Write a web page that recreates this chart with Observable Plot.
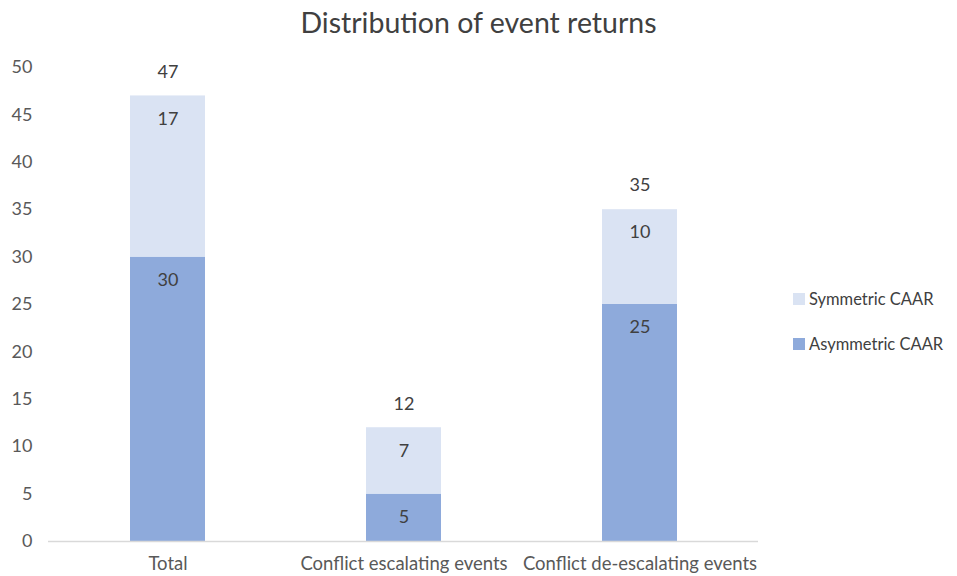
<!DOCTYPE html>
<html>
<head>
<meta charset="utf-8">
<script src="https://cdn.jsdelivr.net/npm/d3@7"></script>
<script src="https://cdn.jsdelivr.net/npm/@observablehq/plot@0.6"></script>
<style>
  body { margin: 0; background: #fff; font-family: Lato, "Open Sans", sans-serif; color: #595959; }
  #wrap { position: relative; width: 957px; height: 576px; overflow: hidden; }
  #title { position: absolute; left: 0; top: 5px; width: 957px; text-align: center; font-size: 28.5px; color: #404040; }
  #chart { position: absolute; left: 0; top: 50px; }
  #legend { position: absolute; left: 793px; top: 287px; font-size: 16.5px; color: #404040; }
  .item { display: flex; align-items: center; height: 24px; margin-bottom: 21px; }
  .sw { width: 12px; height: 12px; margin-right: 4px; }
</style>
</head>
<body>
<div id="wrap">
  <div id="title">Distribution of event returns</div>
  <div id="chart"></div>
  <div id="legend"></div>
</div>
<script>
// Event counts per group, split by CAAR type
const categories = ["Total", "Conflict escalating events", "Conflict de-escalating events"];
const asymmetric = [30, 5, 25];
const symmetric = [17, 7, 10];
const totals = [47, 12, 35];
const seriesNames = ["Symmetric CAAR", "Asymmetric CAAR"];
const yTicks = [0, 5, 10, 15, 20, 25, 30, 35, 40, 45, 50];

const colors = { "Asymmetric CAAR": "#8eaadb", "Symmetric CAAR": "#dae3f3" };

const rows = [];
categories.forEach((c, i) => {
  rows.push({ category: c, series: "Asymmetric CAAR", value: asymmetric[i] });
  rows.push({ category: c, series: "Symmetric CAAR", value: symmetric[i] });
});
const totalRows = categories.map((c, i) => ({ category: c, total: totals[i] }));

const stackOpts = { x: "category", y: "value", z: "series", order: ["Asymmetric CAAR", "Symmetric CAAR"] };

const chart = Plot.plot({
  width: 957,
  height: 526,
  marginLeft: 48,
  marginRight: 199,
  marginTop: 17,
  marginBottom: 35,
  style: { fontFamily: "Lato, 'Open Sans', sans-serif", fontSize: "18px", color: "#595959", background: "transparent" },
  x: { domain: categories, paddingInner: 0.683, paddingOuter: 0.3415, label: null, tickSize: 0, tickPadding: 15 },
  y: { domain: [0, 50], ticks: yTicks, label: null, tickSize: 0, tickPadding: 16 },
  color: { domain: Object.keys(colors), range: Object.values(colors) },
  marks: [
    Plot.barY(rows, Plot.stackY({ ...stackOpts, fill: "series" })),
    Plot.ruleY([0], { stroke: "#d9d9d9", strokeWidth: 1.5 }),
    // segment values sit just below the top of each segment
    Plot.text(rows, Plot.stackY2({ ...stackOpts, text: "value", dy: 23, fill: "#404040", fontSize: 18 })),
    // group totals above each bar
    Plot.text(totalRows, { x: "category", y: "total", text: "total", dy: -24, fill: "#404040", fontSize: 18 })
  ]
});
chart.querySelectorAll("[aria-label='x-axis tick label'] text").forEach(t => t.setAttribute("font-size", 18.5));
document.getElementById("chart").appendChild(chart);

const legend = document.getElementById("legend");
seriesNames.forEach(name => {
  const item = document.createElement("div");
  item.className = "item";
  const sw = document.createElement("div");
  sw.className = "sw";
  sw.style.background = colors[name];
  const label = document.createElement("span");
  label.textContent = name;
  item.appendChild(sw);
  item.appendChild(label);
  legend.appendChild(item);
});
</script>
</body>
</html>
